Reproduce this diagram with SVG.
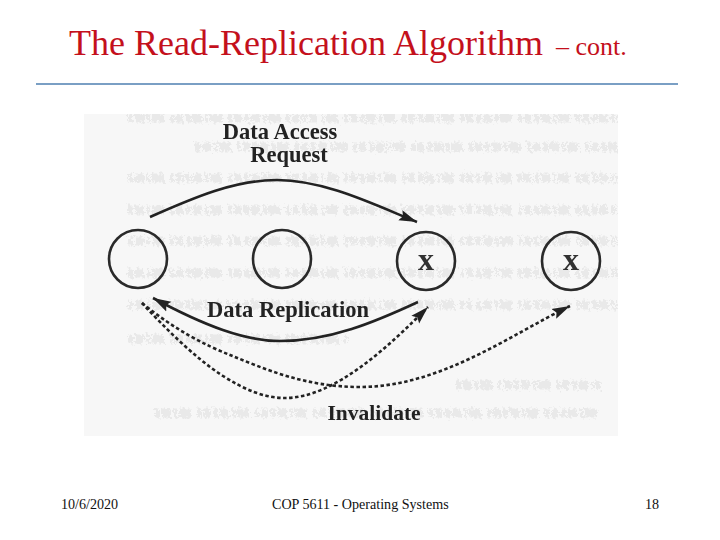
<svg xmlns="http://www.w3.org/2000/svg" width="720" height="540" viewBox="0 0 720 540">
<style>
.s{font-family:"Liberation Serif","Times New Roman",serif;fill:#c4101c}
.l{font-family:"Liberation Serif","Times New Roman",serif;font-weight:bold;font-size:22.5px;fill:#222;text-anchor:middle}
.f{font-family:"Liberation Serif","Times New Roman",serif;font-size:14.1px;fill:#111}
.n{fill:none;stroke:#2a2a2a;stroke-width:2.6}
.x{font-family:"Liberation Serif","Times New Roman",serif;font-weight:bold;font-size:32px;fill:#333;text-anchor:middle}
.c{fill:none;stroke:#222;stroke-width:2.6}
.d{fill:none;stroke:#222;stroke-width:2.6;stroke-dasharray:3.5 2.5}
.g{fill:none;stroke:#e9e9e9;stroke-width:9;stroke-dasharray:5 2 9 3 3 2 12 6 4 2 7 3}
</style>
<defs>
<marker id="a" markerUnits="userSpaceOnUse" markerWidth="20" markerHeight="14" refX="18" refY="7" orient="auto"><path d="M0 1.5L18 7L0 12.5L3 7Z" fill="#222"/></marker>
<filter id="b" x="-5%" y="-5%" width="110%" height="110%"><feGaussianBlur stdDeviation="0.6"/></filter>
<filter id="n" x="-5%" y="-5%" width="110%" height="110%"><feTurbulence type="fractalNoise" baseFrequency="0.35" numOctaves="2" seed="4" result="t"/><feDisplacementMap in="SourceGraphic" in2="t" scale="9"/><feGaussianBlur stdDeviation="0.7"/></filter>
<clipPath id="p"><rect x="84" y="114" width="534" height="322"/></clipPath>
</defs>
<rect width="720" height="540" fill="#fff"/>
<text class="s" x="69" y="55" font-size="36">The Read-Replication Algorithm</text>
<text class="s" x="556" y="55" font-size="26">– cont.</text>
<line x1="36" y1="84" x2="678" y2="84" stroke="#7a9fc4" stroke-width="2"/>
<rect x="84" y="114" width="534" height="322" fill="#f7f7f7"/>
<g clip-path="url(#p)"><g filter="url(#n)">
<path class="g" d="M128 118H618M195 147H618M128 178H618M128 210H618M128 241H618M128 273H618M128 305H618M128 339H350M456 385H600M155 413H600"/>
</g></g>
<g filter="url(#b)">
<g id="connectors">
<path class="c" marker-end="url(#a)" d="M150 217C195 197 235 180 277 180C325 180 375 205 417 222"/>
<path class="c" marker-end="url(#a)" d="M418 302C375 322 330 341 280 341C245 341 205 326 153 298"/>
<path class="d" marker-end="url(#a)" d="M142 303C165 328 195 358 223 376C245 390 265 398 285 398C335 398 390 345 428 307"/>
<path class="d" marker-end="url(#a)" d="M142 303C175 330 205 345 230 355C265 369 305 387 360 387C440 387 510 335 570 306"/>
</g>
<g id="node1"><circle class="n" cx="138" cy="259" r="29"/></g>
<g id="node2"><circle class="n" cx="282" cy="259" r="29"/></g>
<g id="node3"><circle class="n" cx="426" cy="261" r="29"/><text class="x" x="426" y="270">x</text></g>
<g id="node4"><circle class="n" cx="571" cy="261" r="29"/><text class="x" x="571" y="270">x</text></g>
<g id="labels">
<text class="l" x="280" y="139">Data Access</text>
<text class="l" x="289" y="162">Request</text>
<text class="l" x="288" y="317">Data Replication</text>
<text class="l" x="374" y="420" font-size="21.5" style="font-size:21.5px">Invalidate</text>
</g>
</g>
<text class="f" x="61" y="509">10/6/2020</text>
<text class="f" x="272" y="509">COP 5611 - Operating Systems</text>
<text class="f" x="645" y="509">18</text>
</svg>
